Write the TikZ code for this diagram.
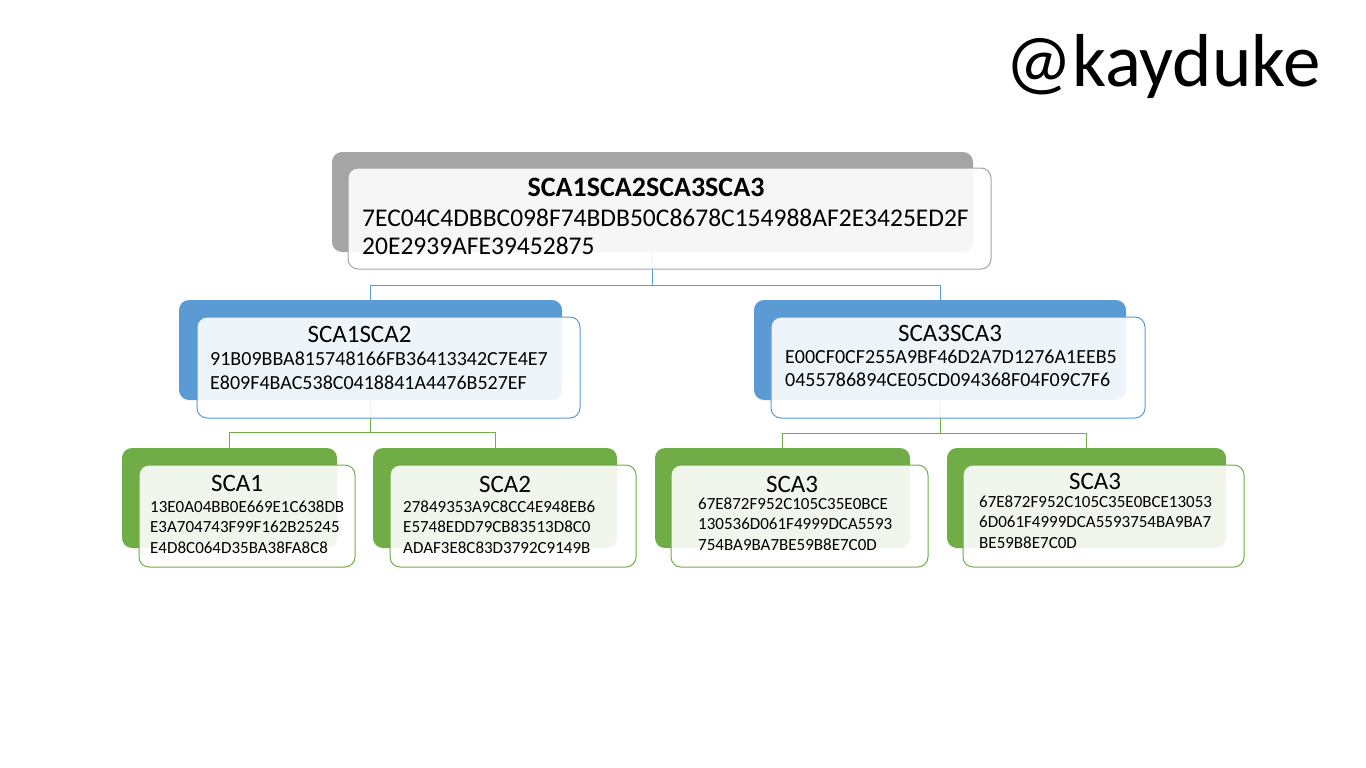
\documentclass[tikz,border=0pt]{standalone}
\usepackage{fontspec}
\setmainfont{Carlito}
\definecolor{cgray}{HTML}{A5A5A5}
\definecolor{cblue}{HTML}{5B9BD5}
\definecolor{cgreen}{HTML}{70AD47}
\tikzset{
  backbox/.style={rectangle, rounded corners=10pt, draw=none, inner sep=0pt, outer sep=0pt},
  frontbox/.style={rectangle, rounded corners=10pt, line width=1pt, fill=white, fill opacity=0.9, inner sep=0pt, outer sep=0pt},
  conn/.style={line width=1pt},
  ttl/.style={anchor=base, inner sep=0pt, text=black},
  hashA/.style={anchor=base west, inner sep=0pt, align=left, text=black, font=\fontsize{25.5}{28}\selectfont},
  hashB/.style={anchor=base west, inner sep=0pt, align=left, text=black, font=\fontsize{20}{23.3}\selectfont},
  hashC/.style={anchor=base west, inner sep=0pt, align=left, text=black, font=\fontsize{17}{20.5}\selectfont},
}
\begin{document}
\begin{tikzpicture}[x=1pt,y=-1pt]
\useasboundingbox (0,0) rectangle (1366,768);
% back boxes
\node[backbox, fill=cgray, minimum width=641pt, minimum height=100pt] (t0) at (652.5,202) {};
\node[backbox, fill=cblue, minimum width=383pt, minimum height=100pt] (b1) at (370.5,350) {};
\node[backbox, fill=cblue, minimum width=372pt, minimum height=100pt] (b2) at (940,350) {};
\node[backbox, fill=cgreen, minimum width=215pt, minimum height=100pt] (g1) at (229.5,498) {};
\node[backbox, fill=cgreen, minimum width=244pt, minimum height=100pt] (g2) at (495,498) {};
\node[backbox, fill=cgreen, minimum width=255pt, minimum height=100pt] (g3) at (782.5,498) {};
\node[backbox, fill=cgreen, minimum width=279pt, minimum height=100pt] (g4) at (1086.5,498) {};
% connectors
\draw[conn, cblue] (t0.south) -- ++(0,33) -| (b1.north);
\draw[conn, cblue] (t0.south) -- ++(0,33) -| (b2.north);
\draw[conn, cgreen] (b1.south) -- ++(0,32) -| (g1.north);
\draw[conn, cgreen] (b1.south) -- ++(0,32) -| (g2.north);
\draw[conn, cgreen] (b2.south) -- ++(0,33) -| (g3.north);
\draw[conn, cgreen] (b2.south) -- ++(0,33) -| (g4.north);
% front boxes
\node[frontbox, draw=cgray, minimum width=643pt, minimum height=101pt] (t0f) at (669.5,218.5) {};
\node[frontbox, draw=cblue, minimum width=383pt, minimum height=101pt] (b1f) at (388.5,367.5) {};
\node[frontbox, draw=cblue, minimum width=374pt, minimum height=101pt] (b2f) at (958,367.5) {};
\node[frontbox, draw=cgreen, minimum width=216pt, minimum height=102pt] (g1f) at (247,516) {};
\node[frontbox, draw=cgreen, minimum width=246pt, minimum height=102pt] (g2f) at (513,516) {};
\node[frontbox, draw=cgreen, minimum width=257pt, minimum height=102pt] (g3f) at (799.5,516) {};
\node[frontbox, draw=cgreen, minimum width=281pt, minimum height=102pt] (g4f) at (1103.5,516) {};
% texts (hash nodes anchored at the baseline of their last line)
\node[ttl, font=\fontsize{28}{30}\selectfont\bfseries] (t0t) at (646,196) {SCA1SCA2SCA3SCA3};
\node[hashA] (t0h) at (362,254) {7EC04C4DBBC098F74BDB50C8678C154988AF2E3425ED2F\\20E2939AFE39452875};
\node[ttl, font=\fontsize{25}{28}\selectfont] (b1t) at (359.5,342) {SCA1SCA2};
\node[hashB] (b1h) at (210,389) {91B09BBA815748166FB36413342C7E4E7\\E809F4BAC538C0418841A4476B527EF};
\node[ttl, font=\fontsize{25}{28}\selectfont] (b2t) at (950,341) {SCA3SCA3};
\node[hashB] (b2h) at (785,386.5) {E00CF0CF255A9BF46D2A7D1276A1EEB5\\0455786894CE05CD094368F04F09C7F6};
\node[ttl, font=\fontsize{25}{28}\selectfont] (g1t) at (237,491) {SCA1};
\node[hashC] (g1h) at (150,553) {13E0A04BB0E669E1C638DB\\E3A704743F99F162B25245\\E4D8C064D35BA38FA8C8};
\node[ttl, font=\fontsize{25}{28}\selectfont] (g2t) at (505,492) {SCA2};
\node[hashC] (g2h) at (403,553) {27849353A9C8CC4E948EB6\\E5748EDD79CB83513D8C0\\ADAF3E8C83D3792C9149B};
\node[ttl, font=\fontsize{25}{28}\selectfont] (g3t) at (792,492) {SCA3};
\node[hashC] (g3h) at (698,550) {67E872F952C105C35E0BCE\\130536D061F4999DCA5593\\754BA9BA7BE59B8E7C0D};
\node[ttl, font=\fontsize{25}{28}\selectfont] (g4t) at (1095,489) {SCA3};
\node[hashC] (g4h) at (979,548) {67E872F952C105C35E0BCE13053\\6D061F4999DCA5593754BA9BA7\\BE59B8E7C0D};
% watermark
\node[anchor=base west, inner sep=0pt, text=black, font=\fontsize{75}{75}\selectfont] (wm) at (1005,86) {@kayduke};
\end{tikzpicture}
\end{document}
